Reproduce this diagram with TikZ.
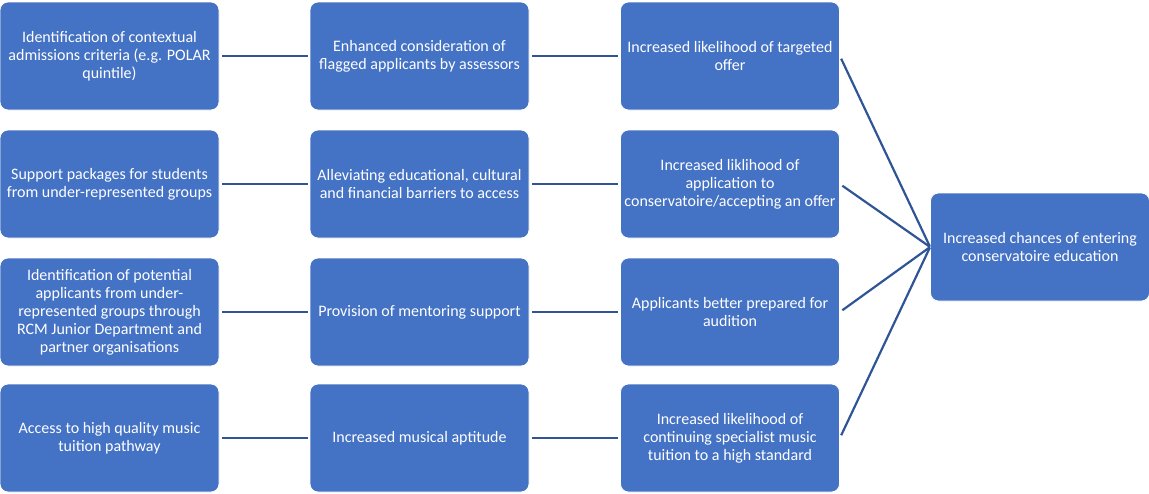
\documentclass[tikz,border=0pt]{standalone}
\usepackage{fontspec}
\setmainfont{Carlito}
\definecolor{boxblue}{HTML}{4472C4}
\definecolor{lineblue}{HTML}{2F5597}
\begin{document}
\begin{tikzpicture}[x=1pt,y=-1pt,
  box/.style={rectangle, rounded corners=8pt, fill=boxblue, draw=white, line width=0.8pt,
    minimum width=219pt, minimum height=108pt, align=center,
    text=white, inner sep=0pt, font=\fontsize{16pt}{18pt}\selectfont},
  link/.style={draw=lineblue, line width=2.2pt, shorten <=3pt, shorten >=2pt}]
\useasboundingbox (0,0) rectangle (1149,493);
\node[box] (a1) at (109.5,56) {Identification of contextual\\admissions criteria (e.g. POLAR\\quintile)};
\node[box] (b1) at (419.5,56) {Enhanced consideration of\\flagged applicants by assessors};
\node[box] (c1) at (730,56) {Increased likelihood of targeted\\offer};
\node[box] (a2) at (109.5,184) {Support packages for students\\from under-represented groups};
\node[box] (b2) at (419.5,184) {Alleviating educational, cultural\\and financial barriers to access};
\node[box] (c2) at (730,184) {Increased liklihood of\\application to\\conservatoire/accepting an offer};
\node[box] (a3) at (109.5,312) {Identification of potential\\applicants from under-\\represented groups through\\RCM Junior Department and\\partner organisations};
\node[box] (b3) at (419.5,312) {Provision of mentoring support};
\node[box] (c3) at (730,312) {Applicants better prepared for\\audition};
\node[box] (a4) at (109.5,438) {Access to high quality music\\tuition pathway};
\node[box] (b4) at (419.5,438) {Increased musical aptitude};
\node[box] (c4) at (730,438) {Increased likelihood of\\continuing specialist music\\tuition to a high standard};
\node[box] (d) at (1040,247) {Increased chances of entering\\conservatoire education};
\foreach \r in {1,2,3,4}{
  \draw[link] (a\r.east) -- (b\r.west);
  \draw[link] (b\r.east) -- (c\r.west);
  \draw[link, shorten >=0.5pt] (c\r.east) -- (d.west);
}
\end{tikzpicture}
\end{document}
